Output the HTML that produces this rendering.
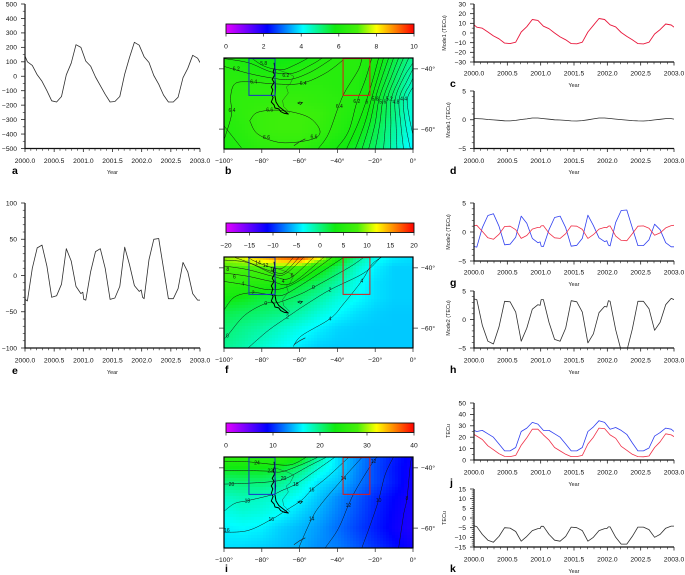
<!DOCTYPE html>
<html lang="en">
<head>
<meta charset="utf-8">
<title>TEC modes over the South Atlantic</title>
<style>
html,body{margin:0;padding:0;background:#fff;width:685px;height:575px;overflow:hidden}
svg{display:block;filter:blur(0.3px);font-family:"Liberation Sans",sans-serif}
</style>
</head>
<body>
<svg id="root" width="685" height="575" viewBox="0 0 685 575" xmlns="http://www.w3.org/2000/svg">
<defs id="defs"></defs>
<rect x="0" y="0" width="685" height="575" fill="#fff"></rect>
</svg>
<script>
// ---------- time axes (month offset from 2000.0) ----------
const monthsA = [0,.5,1.5,2.5,3.5,4.5,5.5,6.5,7.5,8.5,9.5,10.5,11.5,12.5,13.5,14.5,15.5,16.5,17.5,18.5,19.5,20.5,21.5,22.5,23.5,24.5,25.5,26.5,27.5,28.5,29.5,30.5,31.5,32.5,33.5,34.5,35.5,36];
const monthsB = [0,.5,1.5,2.5,3.5,4.5,5.5,6.5,7.5,8.5,9.5,10.5,11.5,11.9,12.1,12.5,13.5,14.5,15.5,16.5,17.5,18.5,19.5,20.5,21.5,22.5,23.5,23.9,24.2,24.5,25.5,26.5,27.5,28.5,29.5,30.5,31.5,32.5,33.5,34.5,35.5,36];
const yearTicks = [2000,2000.5,2001,2001.5,2002,2002.5,2003];

// ---------- line series ----------
const seriesA = [140,100,75,10,-35,-100,-170,-178,-140,10,90,218,200,105,70,-5,-65,-125,-178,-175,-140,15,130,235,215,135,95,5,-55,-130,-178,-178,-145,-10,55,145,125,95];
const seriesC = [8.5,6,5,1,-3,-6,-10.5,-11,-9.5,1,6.5,14,13,7,4.5,0,-4,-7,-11,-11.2,-9.5,1,8,15,14,8.5,6.3,.5,-3.5,-7,-11,-11.3,-9.5,-1,3.5,9.3,8.3,6];
const seriesD = [.2,.2,.15,.05,-.03,-.1,-.18,-.2,-.12,.05,.15,.3,.3,.2,.1,0,-.05,-.12,-.2,-.22,-.15,0,.15,.3,.3,.22,.12,.02,-.06,-.14,-.2,-.22,-.15,-.02,.08,.2,.2,.12];
const seriesE = [-33,-35,10,38,42,13,-30,-28,-12,37,20,-15,-25,-23,-33,-34,5,33,37,10,-33,-31,-15,39,15,-14,-22,-20,-30,-32,22,50,51,10,-32,-32,-18,18,5,-25,-34,-34];
const seriesGBlue = [-2.5,-2.6,.75,2.85,3.15,1,-2.2,-2.1,-.9,2.75,1.5,-1.1,-1.85,-1.7,-2.45,-2.5,.4,2.5,2.75,.75,-2.45,-2.3,-1.1,2.9,1.1,-1,-1.65,-1.5,-2.25,-2.4,1.65,3.7,3.8,.75,-2.35,-2.35,-1.35,1.35,.4,-1.85,-2.55,-2.55];
const seriesGRed = [1.1,1.15,.1,-1,-1.25,-.4,.95,1,.4,-1.1,-.6,.5,.8,.8,1.05,1.1,-.2,-1,-1.1,-.3,1.05,1,.45,-1.1,-.45,.5,.8,.75,1,1.05,-.7,-1.45,-1.5,-.3,1,1.05,.65,-.55,-.15,.7,1.1,1.15];
const seriesH = [3.6,3.5,-1,-3.8,-4.3,-1.3,3.2,3.1,1.3,-3.8,-1.5,1.8,2.6,2.5,3.5,3.5,-.5,-3.5,-3.8,-1.5,3.3,3.1,1.3,-4.1,-2.5,1.2,2.3,2.2,3.3,3.2,-1.8,-5.5,-5.5,-1.7,3.2,3.2,1.9,-1.9,-.5,2.6,3.7,3.5];
const seriesJBlue = [26,25,26,23,20,14,8,8,11,25,28,33,31.5,26,26,23,20,14,8,8,11,25,29,34.5,33,27,28.5,26,22.5,15,8,8,10.5,21,24,28,27,25];
const seriesJRed = [22.5,21,18,12.5,9,5.5,3.2,3,4,13,19.5,27,27,22,17.5,11,8,5,3,3,4,14,20,28,27.5,22,19,12,8.5,5,3,2.8,3.5,11,16,23,22,20.5];
const seriesK = [-4,-4.5,-8.5,-11.5,-12.5,-9.5,-5,-5.2,-7,-12,-9.5,-6.5,-5.5,-5.5,-4.3,-4.3,-8.5,-11.5,-12,-9.5,-4.7,-5,-6.5,-12,-10,-6.5,-5.5,-5.5,-4.6,-4.6,-10,-13.5,-13.5,-9.5,-4.7,-4.7,-6,-10,-8.5,-5.3,-4.2,-4.2];

// ---------- map grids ----------
const gridLon = [-100,-90,-80,-70,-60,-50,-40,-30,-20,-10,0];
const gridLat = [-36,-40,-45,-50,-55,-60,-66.6];
const fieldB = [
[6.2,6.0,5.8,5.7,5.8,6.1,6.3,6.3,6.0,5.5,4.9],
[6.3,6.2,6.0,6.0,6.2,6.3,6.3,6.3,5.9,5.3,4.7],
[6.4,6.4,6.4,6.4,6.4,6.4,6.3,6.2,5.8,5.2,4.5],
[6.4,6.5,6.5,6.6,6.6,6.5,6.4,6.2,5.7,5.1,4.4],
[6.3,6.5,6.7,6.8,6.8,6.7,6.4,6.1,5.6,5.0,4.3],
[6.2,6.4,6.7,6.8,6.8,6.6,6.3,5.9,5.4,4.8,4.2],
[6.0,6.2,6.4,6.5,6.5,6.2,5.9,5.6,5.2,4.6,4.0]];
const fieldF = [
[10,12,15,18,20,14,5,0,-3,-4,-4.5],
[8,8,8,8,7,4,1,-2,-4,-5,-5],
[6,5.5,5,4,2.5,1,-1,-3,-4.5,-5,-5],
[3.5,3,2,1.5,.5,-1,-2.5,-3.5,-4.5,-5,-5],
[1.5,1,.5,0,-1.2,-2.5,-3.6,-4.5,-5,-5.2,-5.2],
[.5,-.3,-1,-2,-3,-4,-4.8,-5.1,-5.2,-5.2,-5.2],
[-.5,-1.2,-2.3,-3.3,-4.3,-5,-5.2,-5.2,-5.2,-5.2,-5.2]];
const fieldI = [
[26,26,26,26,24,19.5,15.5,13.2,11.2,9.6,8.4],
[23,23.2,23.2,22.5,20.5,17.5,15.5,13,11,9.4,8.2],
[20,20.3,20.3,19.5,17.8,15.6,14.6,12.6,11,9.5,8],
[18,18.5,18,17.5,16.2,14.7,13,11.5,10,8.8,7.9],
[17,17.5,17.2,16.4,15.2,14,12.6,11.2,9.8,8.6,7.8],
[16,16.3,16,15,14.3,13.4,12.1,10.8,9.6,8.4,7.6],
[15.5,15.3,15,14.6,14,13,12.6,11.5,10.3,9.2,8.2]];
const colorbarTicksB = [0,2,4,6,8,10];
const colorbarTicksF = [-20,-15,-10,-5,0,5,10,15,20];
const colorbarTicksI = [0,10,20,30,40];
const lonTicks = [-100,-80,-60,-40,-20,0];
const latTicks = [-40,-60];

// ---------- contours as [lon,lat] ----------
const contoursB = [
[[-85.5,-36.4],[-78.4,-39.2],[-69.6,-40.3],[-62.5,-38.7],[-55.4,-36.4]],
[[-100,-36.6],[-87,-38],[-75,-41],[-64,-41.5],[-54,-38.7],[-48,-36.4]],
[[-100,-39.2],[-87,-41.5],[-75,-43],[-65,-43.5],[-54,-41],[-43,-36.7]],
[[-100,-63.4],[-99,-61.7],[-96,-55],[-96.5,-49.3],[-94.3,-45],[-87.3,-44.3],[-73,-45],[-59,-44.8],[-46.5,-41.5],[-36.8,-37]],
[[-86.4,-57.2],[-82,-54.4],[-69.6,-53.8],[-55.4,-56],[-49.2,-60.6],[-53.6,-63.4],[-69.6,-64.5],[-82,-61.7],[-86.4,-57.2]],
[[-100,-58.9],[-90.8,-66.2]],
[[-50,-66.4],[-44.8,-61.7],[-39.5,-52.7],[-36,-47.6],[-28.9,-40.3],[-27,-36.4]],
[[-40.4,-66.4],[-34,-60.6],[-29.7,-51],[-25.3,-43.7],[-21.8,-36.4]],
[[-35.2,-66.6],[-29,-58],[-24.4,-50],[-21,-43],[-18.2,-36.4]],
[[-30.6,-66.6],[-25.5,-58],[-22,-50],[-18.7,-43],[-15.6,-36.4]],
[[-27,-66.6],[-22.8,-58],[-20,-50],[-16.5,-43],[-12.9,-36.4]],
[[-23.5,-66.6],[-20,-58],[-18,-50],[-14,-43],[-10.3,-36.4]],
[[-20,-66.6],[-17.5,-58],[-15.8,-50],[-11.7,-43],[-7.6,-36.4]],
[[-15.6,-66.6],[-14.5,-58],[-13.6,-50],[-9.5,-43],[-5,-36.4]],
[[-12,-66.6],[-11.7,-58],[-11.5,-50],[-7,-43],[-2.3,-36.4]],
[[-8.5,-66.6],[-9,-58],[-9.4,-50],[-5,-43],[0,-38]],
[[-5,-66.6],[-6.5,-58],[-7.3,-50],[-3.2,-44],[0,-40]],
[[-1.4,-66.6],[-4,-58],[-5.1,-50],[-1.5,-45],[0,-43]],
[[0,-62],[-2,-56],[-3,-50],[0,-46]]];
const contoursF = [
[[-87.3,-36.6],[-82,-38.3],[-74,-40],[-68.7,-40],[-63.4,-36.6]],
[[-94,-36.6],[-87,-38.2],[-78,-40.5],[-73,-41.5],[-68,-41.5],[-60.5,-36.6]],
[[-100,-37.4],[-87.3,-38.3],[-73.1,-42.2],[-66.9,-41.7],[-58,-36.6]],
[[-100,-39.4],[-87.3,-40.6],[-74,-42.8],[-65.1,-43.4],[-52.7,-36.6]],
[[-100,-41.7],[-87.3,-42.8],[-74.9,-44.5],[-64.2,-45.1],[-47.4,-36.6]],
[[-100,-44.5],[-89,-45.6],[-74.9,-47.3],[-62.5,-45.1],[-43,-36.6]],
[[-100,-54],[-94.3,-49.6],[-84.6,-48.2],[-74.9,-49],[-68.7,-49],[-58.9,-45.6],[-36.8,-36.6]],
[[-100,-63.4],[-98.2,-62.5],[-89,-55.7],[-77.9,-51.8],[-71.3,-51.5],[-60.7,-49],[-52.7,-46.5],[-34.2,-40],[-26.2,-36.6]],
[[-87.3,-66.6],[-76.6,-60.8],[-66.4,-56.3],[-57.2,-52.4],[-43.9,-47.3],[-26,-41.7],[-17.3,-36.6]],
[[-63.4,-66.1],[-58.9,-62.5],[-43.9,-56.9],[-36.8,-52],[-27.1,-44.3],[-21.8,-38.9],[-16.5,-36.4]]];
const contoursI = [
[[-100,-37.8],[-87.3,-38],[-73.1,-38.9],[-64.2,-38.9],[-56.3,-36.4]],
[[-100,-40.9],[-87.3,-40.9],[-75.8,-41.1],[-69.6,-41.3],[-58.9,-38.9],[-50.1,-36.4]],
[[-100,-45.4],[-87.3,-45.1],[-74,-44.5],[-66.9,-43.4],[-55.4,-39.5],[-45.7,-36.4]],
[[-100,-54.4],[-94.3,-51.8],[-87.6,-50.9],[-74.9,-49],[-69.6,-47.6],[-62,-45.4],[-51.9,-41.1],[-41.2,-36.4]],
[[-100,-61.4],[-87.3,-60.8],[-74.9,-57.1],[-66.9,-54],[-58.9,-50.7],[-53.6,-47.3],[-44.8,-42.8],[-34.2,-36.6]],
[[-60.5,-66.6],[-53.6,-56.9],[-48.3,-51.8],[-36.8,-43.4],[-27.1,-36.6]],
[[-46.5,-66.6],[-39.5,-60.2],[-34.2,-52.4],[-29.7,-46.7],[-20.9,-37.8],[-18.2,-36.4]],
[[-27.1,-66.6],[-22.7,-59.1],[-18.2,-50.7],[-14.7,-42.2],[-10.3,-36.4]],
[[-7.6,-66.6],[-5,-55.7],[-3.2,-50.1],[-1.4,-38.9],[-.5,-36.4]]];
const labelsB = [[-79,-38.1,"5.8"],[-93.5,-40,"6.2"],[-67.3,-42.2,"6.2"],[-84.3,-44.3,"6.4"],[-58.1,-44.8,"6.4"],[-95.8,-53.8,"6.4"],[-75.8,-53.6,"6.6"],[-77.5,-62.8,"6.6"],[-52.4,-62.6,"6.6"],[-39,-52.5,"6.4"],[-29.7,-50.7,"6.2"],[-24.4,-51,"6"],[-20,-50,"5.8"],[-16,-51,"5.6"],[-12.5,-50,"5.2"],[-9,-51,"4.8"],[-5,-50,"4.4"]];
const labelsF = [[-82,-38.3,"14"],[-78,-39.2,"12"],[-74,-40.5,"10"],[-98,-40.5,"8"],[-94.5,-43,"6"],[-90,-45.3,"4"],[-84.6,-48.2,"2"],[-77.9,-51.8,"0"],[-52.7,-46.5,"0"],[-43.9,-47.3,"2"],[-98.2,-62.5,"0"],[-66.4,-56.3,"2"],[-43.9,-56.9,"4"],[-27.1,-44.3,"4"],[-68.7,-44.5,"4"],[-64,-42.5,"6"]];
const labelsI = [[-82.5,-38.4,"24"],[-75.5,-41,"22"],[-68.5,-43.4,"20"],[-96,-45.4,"20"],[-87.6,-50.9,"18"],[-62,-45.4,"18"],[-75,-57.1,"16"],[-53.6,-47.3,"16"],[-98.5,-60.8,"16"],[-53.6,-56.9,"14"],[-36.8,-43.4,"14"],[-34.2,-52.4,"12"],[-20.9,-37.8,"12"],[-18.2,-50.7,"10"],[-3.2,-50.1,"8"]];

// ---------- geography [lon,lat] ----------
const coastMain = [[-73.5,-38],[-73.2,-39.5],[-74,-41],[-73.2,-42],[-74.5,-43.5],[-73.5,-44.5],[-75,-46],[-74.2,-47],[-75,-48.5],[-74,-49.5],[-75,-51],[-73.5,-52],[-73,-53],[-71,-53.3],[-70,-54.2],[-68,-54.8],[-66,-55],[-68,-54],[-71,-52.5],[-72.5,-51],[-73,-49],[-72.7,-46],[-73,-43],[-72.8,-40]];
const coastEast = [[-73,-40],[-66,-41.5],[-63,-42.5],[-65,-45],[-67,-46],[-66,-48],[-69,-50.5],[-68.5,-52.5],[-65,-54.6]];
const falklands = [[-61,-51.2],[-59.5,-51.8],[-58.5,-51.2],[-60,-51],[-61,-51.6]];
const antarctic = [[-63,-65.5],[-60,-64.2],[-57,-63.2]];
const blueBoxLon = [-86.8,-73];
const redBoxLon = [-37,-22.8];
const boxLat = [-36.6,-48.8];

// ---------- colour scale ----------
const colorStops = [[0,[228,0,255]],[.22,[0,0,255]],[.41,[0,255,255]],[.58,[16,235,16]],[.7,[70,240,10]],[.8,[255,255,0]],[1,[255,0,0]]];
function rampColor(t){
  t=Math.max(0,Math.min(1,t));
  for(let i=1;i<colorStops.length;i++){
    if(t<=colorStops[i][0]){
      const a=colorStops[i-1],b=colorStops[i],f=(t-a[0])/(b[0]-a[0]);
      return 'rgb('+a[1].map((c,k)=>Math.round(c+(b[1][k]-c)*f)).join(',')+')';
    }
  }
  return 'rgb(255,0,0)';
}

const NS='http://www.w3.org/2000/svg';
const root=document.getElementById('root');
const defs=document.getElementById('defs');
function mk(tag,attrs,parent){
  const el=document.createElementNS(NS,tag);
  for(const k in attrs)el.setAttribute(k,attrs[k]);
  (parent||root).appendChild(el);
  return el;
}
function fmt(v,d){
  const s=d?v.toFixed(d):String(v);
  return s.replace('-','\u2212');
}
function smoothPath(pts){
  let d='M'+pts[0][0].toFixed(1)+' '+pts[0][1].toFixed(1);
  for(let i=0;i<pts.length-1;i++){
    const p0=pts[Math.max(i-1,0)],p1=pts[i],p2=pts[i+1],p3=pts[Math.min(i+2,pts.length-1)];
    const c1=[p1[0]+(p2[0]-p0[0])/6,p1[1]+(p2[1]-p0[1])/6];
    const c2=[p2[0]-(p3[0]-p1[0])/6,p2[1]-(p3[1]-p1[1])/6];
    d+='C'+c1[0].toFixed(1)+' '+c1[1].toFixed(1)+' '+c2[0].toFixed(1)+' '+c2[1].toFixed(1)+' '+p2[0].toFixed(1)+' '+p2[1].toFixed(1);
  }
  return d;
}

// ---------- gradient for colourbars ----------
const grad=mk('linearGradient',{id:'ramp',x1:'0',x2:'1',y1:'0',y2:'0'},defs);
colorStops.forEach(s=>{
  mk('stop',{offset:s[0],'stop-color':'rgb('+s[1].join(',')+')'},grad);
});

// ---------- line panel ----------
function linePanel(c){
  const g=mk('g',{});
  
  
  const xScale=t=>c.x0+(t-2000)/3*(c.x1-c.x0);
  const yScale=v=>c.yB+(v-c.yMin)/(c.yMax-c.yMin)*(c.yT-c.yB);
  const clipId='clip-'+c.letter;
  const cp=mk('clipPath',{id:clipId},defs);
  mk('rect',{x:c.x0,y:c.yT,width:c.x1-c.x0,height:c.yB-c.yT},cp);
  c.series.forEach(s=>{
    const pts=s.values.map((v,i)=>xScale(2000+s.months[i]/12).toFixed(1)+','+yScale(v).toFixed(1)).join(' ');
    const line=mk('polyline',{points:pts,fill:'none',stroke:s.color,'stroke-width':s.width||0.8,'stroke-linejoin':'round','clip-path':'url(#'+clipId+')'},g);
    
    
  });
  const axY=mk('line',{x1:c.x0,x2:c.x0,y1:c.yT,y2:c.yB+.6,stroke:'#111','stroke-width':1.2},g);
  
  
  const axX=mk('line',{x1:c.x0-.6,x2:c.x1,y1:c.yB,y2:c.yB,stroke:'#111','stroke-width':1.2},g);
  
  
  for(let v=c.yMin;v<=c.yMax+1e-9;v+=c.yMinor){
    const maj=Math.abs(((v-c.yMin)/c.yMajor)-Math.round((v-c.yMin)/c.yMajor))<1e-6;
    const tk=mk('line',{x1:c.x0,x2:c.x0-(maj?4:2.2),y1:yScale(v),y2:yScale(v),stroke:'#222','stroke-width':maj?.8:.6},g);
    
    
    if(maj){
      const tx=mk('text',{x:c.x0-8,y:yScale(v)+2.3,'text-anchor':'end','font-size':6.7,fill:'#111'},g);
      tx.textContent=fmt(Math.round(v));
      
      
    }
  }
  for(let i=0;i<=30;i++){
    const t=2000+i/10,maj=i%5===0;
    const tk=mk('line',{x1:xScale(t),x2:xScale(t),y1:c.yB,y2:c.yB+(maj?3.5:2.2),stroke:'#222','stroke-width':maj?.8:.6},g);
    
    
  }
  yearTicks.forEach(t=>{
    const tx=mk('text',{x:xScale(t),y:c.tickY+2.3,'text-anchor':'middle','font-size':6.7,fill:'#111'},g);
    tx.textContent=t.toFixed(1);
    
    
  });
  const yr=mk('text',{x:(c.x0+c.x1)/2,y:c.yearY+2,'text-anchor':'middle','font-size':5.4,fill:'#222'},g);
  yr.textContent='Year';
  
  
  if(c.title){
    const tt=mk('text',{x:c.titleX,y:c.titleY,'text-anchor':'middle','font-size':5.4,fill:'#222',transform:'rotate(-90 '+c.titleX+' '+c.titleY+')'},g);
    tt.textContent=c.title;
    
    
  }
  const lt=mk('text',{x:c.letterX,y:c.letterY,'font-size':10.5,'font-weight':'bold',fill:'#000'},g);
  lt.textContent=c.letter;
  
  
}

// ---------- map panel ----------
function mapPanel(c){
  const g=mk('g',{});
  
  
  const mx0=224,mx1=413,H=91;
  const X=lon=>mx0+(lon+100)/100*(mx1-mx0);
  const Y=lat=>c.top+(-36.4-lat)/30.2*H;
  const valAt=(lon,lat)=>{
    let i=0;while(i<gridLon.length-2&&lon>gridLon[i+1])i++;
    let j=0;while(j<gridLat.length-2&&lat<gridLat[j+1])j++;
    const fx=(lon-gridLon[i])/(gridLon[i+1]-gridLon[i]);
    const fy=Math.max(0,(lat-gridLat[j])/(gridLat[j+1]-gridLat[j]));
    const a=c.field[j][i]*(1-fx)+c.field[j][i+1]*fx;
    const b=c.field[j+1][i]*(1-fx)+c.field[j+1][i+1]*fx;
    return a*(1-fy)+b*fy;
  };
  const clipId='mapclip-'+c.letter;
  const cp=mk('clipPath',{id:clipId},defs);
  mk('rect',{x:mx0,y:c.top,width:mx1-mx0,height:H},cp);
  const cells=mk('g',{'clip-path':'url(#'+clipId+')'},g);
  
  
  for(let py=0;py<H;py+=3){
    for(let px=0;px<mx1-mx0;px+=3){
      const lon=-100+(px+1.5)/(mx1-mx0)*100;
      const lat=-36.4-(py+1.5)/H*30.2;
      const cell=mk('rect',{x:mx0+px,y:c.top+py,width:3.3,height:3.3,fill:rampColor((valAt(lon,lat)-c.vMin)/(c.vMax-c.vMin))},cells);
      
      
    }
  }
  const lines=mk('g',{'clip-path':'url(#'+clipId+')',fill:'none'},g);
  
  
  c.contours.forEach(ct=>{
    const p=mk('path',{d:smoothPath(ct.map(q=>[X(q[0]),Y(q[1])])),stroke:'#111','stroke-width':.5},lines);
    
    
  });
  c.labels.forEach(l=>{
    const t=mk('text',{x:X(l[0]),y:Y(l[1])+1.7,'text-anchor':'middle','font-size':5,fill:'#111'},lines);
    t.textContent=l[2];
    
    
  });
  const pathOf=a=>a.map(q=>X(q[0]).toFixed(1)+','+Y(q[1]).toFixed(1)).join(' ');
  const coast=mk('polyline',{points:pathOf(coastMain),fill:'none',stroke:'#000','stroke-width':1,'stroke-linejoin':'round'},lines);
  
  
  const east=mk('polyline',{points:pathOf(coastEast),fill:'none',stroke:'#222','stroke-width':.35},lines);
  
  
  const fk=mk('polyline',{points:pathOf(falklands),fill:'none',stroke:'#111','stroke-width':.7},lines);
  
  
  const an=mk('polyline',{points:pathOf(antarctic),fill:'none',stroke:'#222','stroke-width':.6},lines);
  
  
  const blue=mk('rect',{x:X(blueBoxLon[0]),y:Y(boxLat[0]),width:X(blueBoxLon[1])-X(blueBoxLon[0]),height:Y(boxLat[1])-Y(boxLat[0]),fill:'none',stroke:'#1a30c8','stroke-width':1},g);
  
  
  const red=mk('rect',{x:X(redBoxLon[0]),y:Y(boxLat[0]),width:X(redBoxLon[1])-X(redBoxLon[0]),height:Y(boxLat[1])-Y(boxLat[0]),fill:'none',stroke:'#e01818','stroke-width':1},g);
  
  
  const frame=mk('rect',{x:mx0,y:c.top,width:mx1-mx0,height:H,fill:'none',stroke:'#000','stroke-width':1.2},g);
  
  
  lonTicks.forEach(l=>{
    const tk=mk('line',{x1:X(l),x2:X(l),y1:c.top+H,y2:c.top+H+4,stroke:'#222','stroke-width':.7},g);
    
    
    const tx=mk('text',{x:X(l),y:c.top+H+14,'text-anchor':'middle','font-size':6.7,fill:'#111'},g);
    tx.textContent=fmt(l)+'\u00b0';
    
    
  });
  latTicks.forEach(l=>{
    const t1=mk('line',{x1:mx0-5,x2:mx0,y1:Y(l),y2:Y(l),stroke:'#222','stroke-width':.7},g);
    
    
    const t2=mk('line',{x1:mx1,x2:mx1+5,y1:Y(l),y2:Y(l),stroke:'#222','stroke-width':.7},g);
    
    
    const tx=mk('text',{x:421,y:Y(l)+2.3,'font-size':6.7,fill:'#111'},g);
    tx.textContent=fmt(l)+'\u00b0';
    
    
  });
  // colourbar
  const bx0=226,bx1=414;
  const bar=mk('rect',{x:bx0,y:c.barY,width:bx1-bx0,height:9.5,fill:'url(#ramp)',stroke:'#111','stroke-width':.9},g);
  
  
  c.ticks.forEach(v=>{
    const x=bx0+(v-c.vMin)/(c.vMax-c.vMin)*(bx1-bx0);
    const tk=mk('line',{x1:x,x2:x,y1:c.barY+9.5,y2:c.barY+12.5,stroke:'#222','stroke-width':.7},g);
    
    
    const tx=mk('text',{x:x,y:c.barY+24.5,'text-anchor':'middle','font-size':6.7,fill:'#111'},g);
    tx.textContent=fmt(v);
    
    
  });
  const lt=mk('text',{x:c.letterX,y:c.letterY,'font-size':10.5,'font-weight':'bold',fill:'#000'},g);
  lt.textContent=c.letter;
  
  
}

const LX=[25,200],RX=[474,674];
const RED='#f03048',BLUE='#3040f0',DARK='#2e2e2e';
linePanel({letter:'a',x0:LX[0],x1:LX[1],yT:4,yB:148.5,yMin:-500,yMax:500,yMajor:100,yMinor:50,tickY:160.5,yearY:172,letterX:12,letterY:174,
  series:[{name:'series-a',months:monthsA,values:seriesA,color:DARK}]});
linePanel({letter:'e',x0:LX[0],x1:LX[1],yT:203,yB:348,yMin:-100,yMax:100,yMajor:50,yMinor:10,tickY:360,yearY:372,letterX:12,letterY:374,
  series:[{name:'series-e',months:monthsB,values:seriesE,color:DARK}]});
linePanel({letter:'c',x0:RX[0],x1:RX[1],yT:4,yB:62,yMin:-30,yMax:30,yMajor:10,yMinor:5,tickY:73,yearY:85,letterX:450,letterY:87,title:'Mode1 (TECu)',titleX:446,titleY:33,
  series:[{name:'series-c',months:monthsA,values:seriesC,color:'#e8183c',width:.9}]});
linePanel({letter:'d',x0:RX[0],x1:RX[1],yT:91,yB:148.5,yMin:-5,yMax:5,yMajor:5,yMinor:1,tickY:160.5,yearY:172,letterX:450,letterY:174,title:'Mode1 (TECu)',titleX:450,titleY:120,
  series:[{name:'series-d',months:monthsA,values:seriesD,color:DARK}]});
linePanel({letter:'g',x0:RX[0],x1:RX[1],yT:203,yB:261,yMin:-5,yMax:5,yMajor:5,yMinor:1,tickY:272,yearY:284,letterX:450,letterY:286,title:'Mode2 (TECu)',titleX:450,titleY:232,
  series:[{name:'series-g-blue',months:monthsB,values:seriesGBlue,color:BLUE},{name:'series-g-red',months:monthsB,values:seriesGRed,color:RED}]});
linePanel({letter:'h',x0:RX[0],x1:RX[1],yT:291,yB:348,yMin:-5,yMax:5,yMajor:5,yMinor:1,tickY:360,yearY:372,letterX:450,letterY:373,title:'Mode2 (TECu)',titleX:450,titleY:318,
  series:[{name:'series-h',months:monthsB,values:seriesH,color:DARK}]});
linePanel({letter:'j',x0:RX[0],x1:RX[1],yT:403,yB:460,yMin:0,yMax:50,yMajor:10,yMinor:5,tickY:472,yearY:484,letterX:450,letterY:486,title:'TECu',titleX:450,titleY:431,
  series:[{name:'series-j-blue',months:monthsA,values:seriesJBlue,color:BLUE},{name:'series-j-red',months:monthsA,values:seriesJRed,color:RED}]});
linePanel({letter:'k',x0:RX[0],x1:RX[1],yT:489,yB:547,yMin:-15,yMax:15,yMajor:5,yMinor:1,tickY:559,yearY:571,letterX:450,letterY:572,title:'TECu',titleX:446,titleY:518,
  series:[{name:'series-k',months:monthsB,values:seriesK,color:DARK}]});
mapPanel({letter:'b',top:58,barY:24,field:fieldB,vMin:0,vMax:10,ticks:colorbarTicksB,contours:contoursB,labels:labelsB,letterX:225,letterY:174});
mapPanel({letter:'f',top:257,barY:223,field:fieldF,vMin:-20,vMax:20,ticks:colorbarTicksF,contours:contoursF,labels:labelsF,letterX:225,letterY:373});
mapPanel({letter:'i',top:457,barY:423,field:fieldI,vMin:0,vMax:40,ticks:colorbarTicksI,contours:contoursI,labels:labelsI,letterX:225,letterY:572});
</script>
</body>
</html>
